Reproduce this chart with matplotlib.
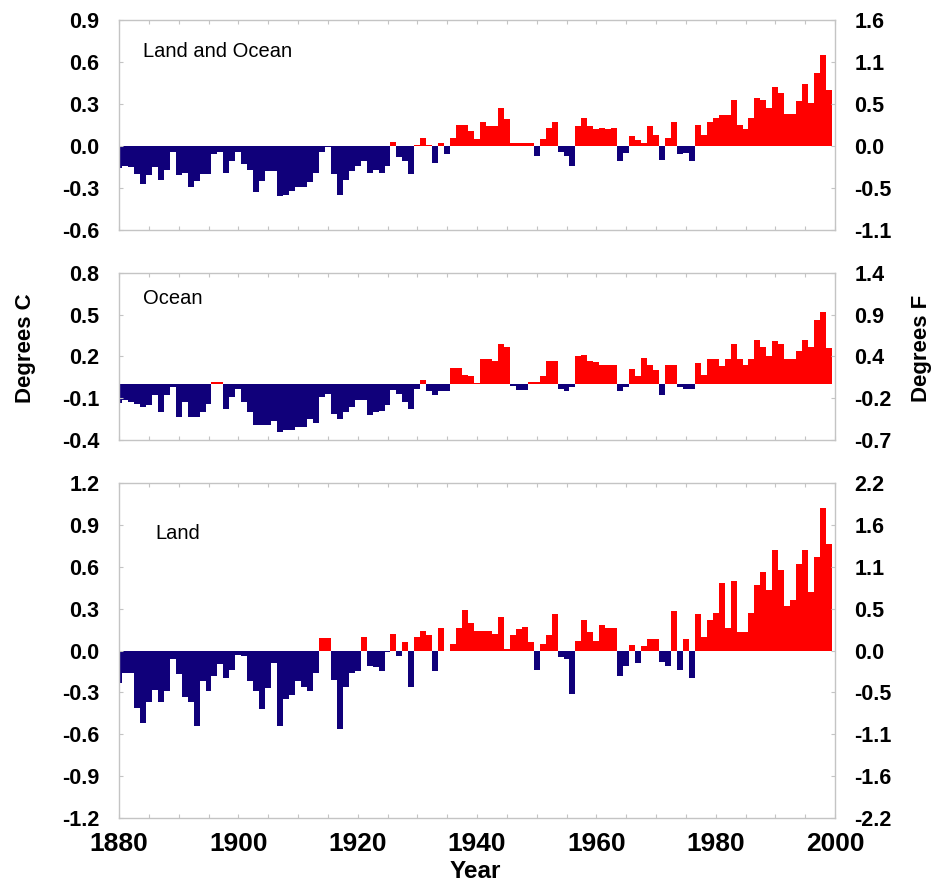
import numpy as np
import matplotlib.pyplot as plt
from matplotlib.ticker import MultipleLocator

# annual anomalies, degrees C, 1880-1999
years = np.arange(1880, 2000)

land_ocean = [
    -0.155, -0.14, -0.15, -0.20, -0.27, -0.21, -0.15, -0.24, -0.17, -0.04,
    -0.21, -0.19, -0.29, -0.25, -0.20, -0.20, -0.06, -0.04, -0.19, -0.11,
    -0.04, -0.13, -0.17, -0.33, -0.25, -0.18, -0.18, -0.36, -0.35, -0.32,
    -0.29, -0.29, -0.26, -0.19, -0.04, -0.01, -0.20, -0.35, -0.24, -0.18,
    -0.14, -0.11, -0.19, -0.17, -0.19, -0.14, 0.03, -0.08, -0.11, -0.20,
    0.01, 0.06, 0.01, -0.12, 0.02, -0.06, 0.06, 0.15, 0.15, 0.11,
    0.05, 0.17, 0.14, 0.14, 0.27, 0.19, 0.02, 0.02, 0.02, 0.02,
    -0.07, 0.05, 0.13, 0.17, -0.04, -0.07, -0.14, 0.14, 0.20, 0.14,
    0.12, 0.13, 0.12, 0.13, -0.11, -0.05, 0.07, 0.04, 0.02, 0.14,
    0.08, -0.10, 0.06, 0.17, -0.06, -0.05, -0.11, 0.15, 0.08, 0.17,
    0.20, 0.22, 0.22, 0.33, 0.15, 0.12, 0.20, 0.34, 0.33, 0.27,
    0.42, 0.38, 0.23, 0.23, 0.32, 0.44, 0.31, 0.52, 0.65, 0.40,
]

ocean = [
    -0.135, -0.115, -0.13, -0.14, -0.16, -0.15, -0.08, -0.20, -0.08, -0.02,
    -0.235, -0.13, -0.235, -0.235, -0.20, -0.14, 0.02, 0.02, -0.18, -0.09,
    -0.03, -0.13, -0.20, -0.29, -0.29, -0.29, -0.26, -0.34, -0.33, -0.33,
    -0.31, -0.31, -0.25, -0.28, -0.09, -0.07, -0.21, -0.25, -0.20, -0.16,
    -0.115, -0.115, -0.22, -0.20, -0.19, -0.15, -0.04, -0.07, -0.13, -0.18,
    -0.03, 0.03, -0.05, -0.08, -0.05, -0.05, 0.12, 0.12, 0.07, 0.06,
    0.01, 0.18, 0.18, 0.17, 0.29, 0.27, -0.01, -0.04, -0.04, 0.02,
    0.02, 0.06, 0.17, 0.17, -0.03, -0.05, -0.02, 0.20, 0.21, 0.17,
    0.16, 0.14, 0.14, 0.14, -0.05, -0.02, 0.11, 0.06, 0.19, 0.14,
    0.10, -0.08, 0.14, 0.14, -0.02, -0.03, -0.03, 0.15, 0.07, 0.18,
    0.18, 0.13, 0.18, 0.29, 0.18, 0.14, 0.18, 0.32, 0.27, 0.20,
    0.31, 0.29, 0.18, 0.18, 0.24, 0.32, 0.27, 0.46, 0.52, 0.26,
]

land = [
    -0.23, -0.16, -0.16, -0.41, -0.52, -0.37, -0.28, -0.37, -0.29, -0.06,
    -0.17, -0.33, -0.37, -0.54, -0.22, -0.29, -0.18, -0.10, -0.20, -0.14,
    -0.03, -0.04, -0.22, -0.29, -0.42, -0.27, -0.09, -0.54, -0.35, -0.32,
    -0.22, -0.26, -0.29, -0.16, 0.09, 0.09, -0.21, -0.56, -0.26, -0.16,
    -0.15, 0.10, -0.11, -0.12, -0.15, -0.01, 0.12, -0.04, 0.06, -0.26,
    0.10, 0.14, 0.11, -0.15, 0.16, 0.0, 0.05, 0.16, 0.29, 0.20,
    0.14, 0.14, 0.14, 0.12, 0.24, 0.01, 0.11, 0.155, 0.17, 0.06,
    -0.14, 0.05, 0.11, 0.26, -0.05, -0.06, -0.31, 0.07, 0.22, 0.13,
    0.07, 0.18, 0.16, 0.16, -0.18, -0.11, 0.04, -0.09, 0.03, 0.08,
    0.08, -0.08, -0.11, 0.28, -0.14, 0.08, -0.20, 0.26, 0.10, 0.22,
    0.27, 0.48, 0.16, 0.50, 0.13, 0.13, 0.27, 0.47, 0.56, 0.43,
    0.72, 0.58, 0.32, 0.36, 0.62, 0.72, 0.42, 0.67, 1.02, 0.76,
]

panel_titles = ["Land and Ocean", "Ocean", "Land"]

c_ticks_top = [-0.6, -0.3, 0.0, 0.3, 0.6, 0.9]
c_ticks_mid = [-0.4, -0.1, 0.2, 0.5, 0.8]
c_ticks_bot = [-1.2, -0.9, -0.6, -0.3, 0.0, 0.3, 0.6, 0.9, 1.2]
f_labels_top = ["-1.1", "-0.5", "0.0", "0.5", "1.1", "1.6"]
f_labels_mid = ["-0.7", "-0.2", "0.4", "0.9", "1.4"]
f_labels_bot = ["-2.2", "-1.6", "-1.1", "-0.5", "0.0", "0.5", "1.1", "1.6", "2.2"]
year_ticks = [1880, 1900, 1920, 1940, 1960, 1980, 2000]

BLUE = "#10007a"
RED = "#ff0000"
FRAME = "#c4c4c4"
SANS = ["Liberation Sans", "DejaVu Sans"]

fig = plt.figure(figsize=(9.4, 8.88), dpi=100)

rects = [
    [0.1266, 0.7410, 0.7617, 0.2365],
    [0.1266, 0.5045, 0.7617, 0.1881],
    [0.1266, 0.0788, 0.7617, 0.3773],
]
series = [land_ocean, ocean, land]
c_ticks = [c_ticks_top, c_ticks_mid, c_ticks_bot]
f_labels = [f_labels_top, f_labels_mid, f_labels_bot]
title_x = [1884.1, 1884.1, 1886.1]

for n in range(3):
    ax = fig.add_axes(rects[n])
    vals = np.array(series[n])
    colors = [BLUE if v < 0 else RED for v in vals]
    ax.bar(years, vals, width=1.0, color=colors, linewidth=0)

    ax.set_xlim(1880, 2000)
    ax.set_ylim(c_ticks[n][0], c_ticks[n][-1])
    ax.set_xticks(year_ticks)
    ax.xaxis.set_minor_locator(MultipleLocator(5))
    ax.set_yticks(c_ticks[n])
    ax.set_yticklabels([f"{t:.1f}" for t in c_ticks[n]],
                       family=SANS, weight="bold", fontsize=15.5)
    if n == 2:
        ax.set_xticklabels([str(y) for y in year_ticks],
                           family=SANS, weight="bold", fontsize=19)
    else:
        ax.set_xticklabels([])
    ax.tick_params(axis="both", which="both", direction="in", color=FRAME,
                   top=True, length=3, width=0.8)
    ax.tick_params(axis="y", pad=14)
    ax.tick_params(axis="x", pad=10)
    for s in ax.spines.values():
        s.set_color(FRAME)
        s.set_linewidth(1.0)

    ax.text(title_x[n], c_ticks[n][-1] - (c_ticks[n][-1] - c_ticks[n][0]) * 0.15,
            panel_titles[n], family=SANS, fontsize=14.5, va="center", ha="left")

    # Fahrenheit axis on the right
    axr = ax.twinx()
    axr.set_ylim(ax.get_ylim())
    axr.set_yticks(c_ticks[n])
    axr.set_yticklabels(f_labels[n], family=SANS, weight="bold", fontsize=15.5)
    axr.tick_params(axis="y", direction="in", color=FRAME, length=3,
                    width=0.8, pad=14)
    for s in axr.spines.values():
        s.set_visible(False)

fig.text(25 / 940, 1 - 348 / 888, "Degrees C", rotation=90, family=SANS,
         weight="bold", fontsize=16, ha="center", va="center")
fig.text(922 / 940, 1 - 348 / 888, "Degrees F", rotation=90, family=SANS,
         weight="bold", fontsize=16, ha="center", va="center")
fig.text(475 / 940, 1 - 871 / 888, "Year", family=SANS, weight="bold",
         fontsize=17.5, ha="center", va="center")

fig.savefig("out.png", dpi=100)
